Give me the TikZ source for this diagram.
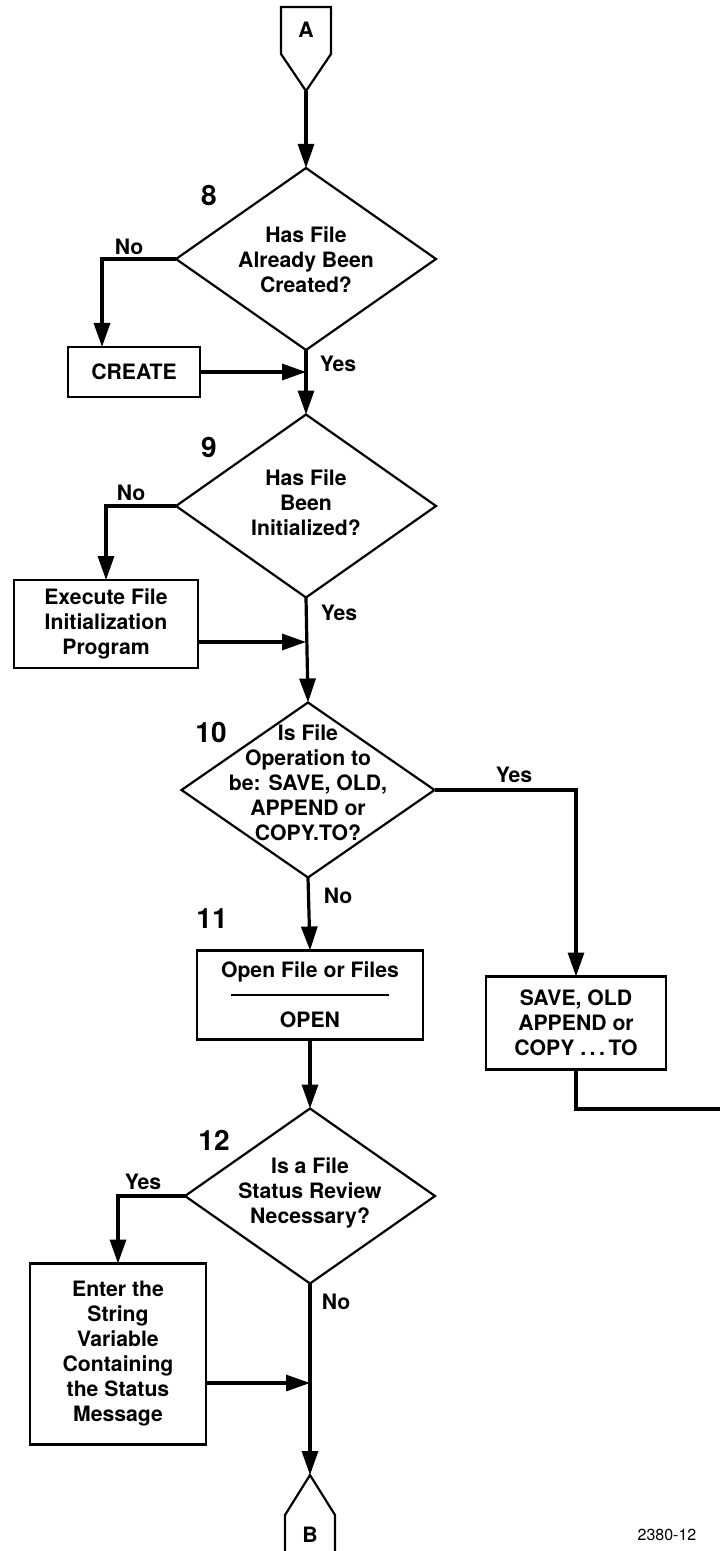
\documentclass[tikz,border=0pt]{standalone}
\usepackage{fontspec}
\setmainfont{TeX Gyre Heros}
\usetikzlibrary{shapes.geometric, arrows.meta, positioning}

\begin{document}
\begin{tikzpicture}[x=0.5pt, y=-0.5pt, >={Triangle[length=12pt,width=8pt]},
    every node/.style={font=\bfseries\fontsize{10.6}{12.5}\selectfont},
    decision/.style={draw, diamond, line width=1.1pt, inner sep=0pt, outer sep=0pt},
    process/.style={draw, rectangle, line width=1.4pt, align=center, inner sep=0pt, outer sep=0pt},
    flow/.style={line width=1.6pt},
    stepnum/.style={font=\bfseries\fontsize{14}{16}\selectfont}]
    \useasboundingbox (0,0) rectangle (720,1551);

    % Connectors
    \node (A) at (306,30) {A};
    \coordinate (Atip) at (306,91);
    \draw[line width=1.1pt] (281,7) -- (331,7) -- (331,54) -- (Atip) -- (281,54) -- cycle;
    \node (B) at (310,1535) {B};
    \coordinate (Btip) at (310,1475);
    \draw[line width=1.1pt] (285,1551) -- (285,1515) -- (Btip) -- (335,1515) -- (335,1551);
    \coordinate (exit) at (720,1109);

    % Decisions
    \node[decision, minimum width=130pt, minimum height=91pt] (d8) at (306,259) {};
    \node[align=center] (d8txt) at (306,260) {Has File\\Already Been\\Created?};
    \node[decision, minimum width=130pt, minimum height=91.5pt] (d9) at (306,506) {};
    \node[align=center] (d9txt) at (306,503) {Has File\\Been\\Initialized?};
    \node[decision, minimum width=126.5pt, minimum height=87.5pt] (d10) at (308,790) {};
    \node[align=center] (d10txt) at (308,783) {Is File\\Operation to\\be: SAVE, OLD,\\APPEND or\\COPY.TO?};
    \node[decision, minimum width=125pt, minimum height=87.5pt] (d12) at (310,1196) {};
    \node[align=center] (d12txt) at (310,1193) {Is a File\\Status Review\\Necessary?};

    % Steps
    \node[process, minimum width=66pt, minimum height=25pt] (create) at (134,372) {CREATE};
    \node[process, minimum width=92pt, minimum height=44pt] (exec) at (106,624) {Execute File\\Initialization\\Program};
    \node[process, minimum width=113pt, minimum height=44.5pt] (open) at (310,995) {Open File or Files\\\rule[3.5pt]{79pt}{1pt}\\OPEN};
    \node[process, minimum width=90pt, minimum height=46.5pt] (save) at (576,1023) {SAVE, OLD\\APPEND or\\COPY\ .\,.\,.\,TO};
    \node[process, minimum width=88pt, minimum height=90.5pt] (enter) at (118,1354) {Enter the\\String\\Variable\\Containing\\the Status\\Message};

    % Numbers
    \node[stepnum] (n8) at (209,195) {8};
    \node[stepnum] (n9) at (209,447) {9};
    \node[stepnum] (n10) at (211,732) {10};
    \node[stepnum] (n11) at (212,919) {11};
    \node[stepnum] (n12) at (214,1140) {12};

    % Answers
    \node (no8) at (129,247) {No};
    \node (yes8) at (338,364) {Yes};
    \node (no9) at (131,493) {No};
    \node (yes9) at (339,613) {Yes};
    \node (yes10) at (514,775) {Yes};
    \node (no10) at (338,896) {No};
    \node (yes12) at (143,1182) {Yes};
    \node (no12) at (336,1302) {No};
    \node[font=\fontsize{8}{9.6}\selectfont] (fig) at (667,1535) {2380-12};

    % Flow
    \draw[flow,->] (Atip) -- (d8.north);
    \draw[flow,->] (d8.west) -| ([xshift=-16pt]create.north);
    \draw[flow,->] (d8.south) -- (d9.north);
    \draw[flow,->] (create.east) -- (create.east -| d8.south);
    \draw[flow,->] (d9.west) -| (exec.north);
    \draw[flow,->] (d9.south) -- (d10.north);
    \draw[flow,->] ([yshift=-9pt]exec.east) -- ([yshift=-9pt]exec.east -| d9.south);
    \draw[flow,->] (d10.east) -| (save.north);
    \draw[flow,->] (d10.south) -- (open.north);
    \draw[flow] (save.south) |- (exit);
    \draw[flow,->] (open.south) -- (d12.north);
    \draw[flow,->] (d12.west) -| (enter.north);
    \draw[flow,->] (d12.south) -- (Btip);
    \draw[flow,->] ([yshift=-14.5pt]enter.east) -- ([yshift=-14.5pt]enter.east -| d12.south);
\end{tikzpicture}
\end{document}
